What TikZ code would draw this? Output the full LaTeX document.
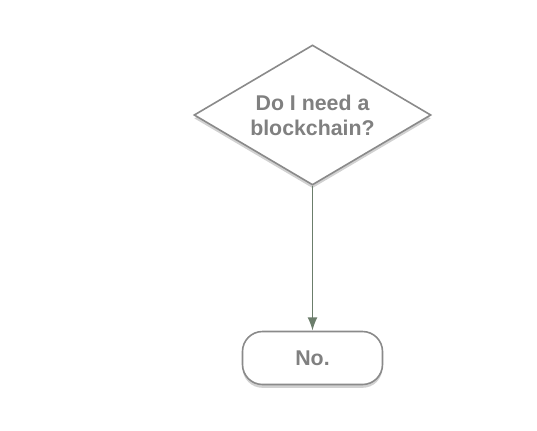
\documentclass[tikz,border=0pt]{standalone}
\usepackage{fontspec}
\setmainfont{Liberation Sans}
\usetikzlibrary{shapes.geometric,arrows.meta,shadows}
\definecolor{boxline}{HTML}{8A8A8A}
\definecolor{boxtext}{HTML}{808080}
\definecolor{flowline}{HTML}{6B7D6B}
\tikzset{
  chart/.style={draw=boxline, line width=1.2pt, fill=white, text=boxtext,
    font=\fontsize{16}{18.75}\selectfont\bfseries, align=center, inner sep=0pt,
    drop shadow={shadow xshift=0pt, shadow yshift=-2.5pt, fill=black!30, opacity=.6}},
  question/.style={chart, diamond, aspect=1.69, minimum width=177.75pt, minimum height=105pt},
  answer/.style={chart, rectangle, rounded corners=15pt, minimum width=105pt, minimum height=39.75pt},
  flow/.style={draw=flowline, line width=1.3pt, -{Latex[length=10pt,width=7.5pt]}}
}
\begin{document}
\begin{tikzpicture}[x=0.75pt,y=-0.75pt]
  \useasboundingbox (0,0) rectangle (537,430);
  \node[question] (ask) at (312.5,115) {Do I need a\\blockchain?};
  \node[answer] (no) at (312.5,358) {No.};
  \draw[flow] (ask.south) -- (no.north);
\end{tikzpicture}
\end{document}
